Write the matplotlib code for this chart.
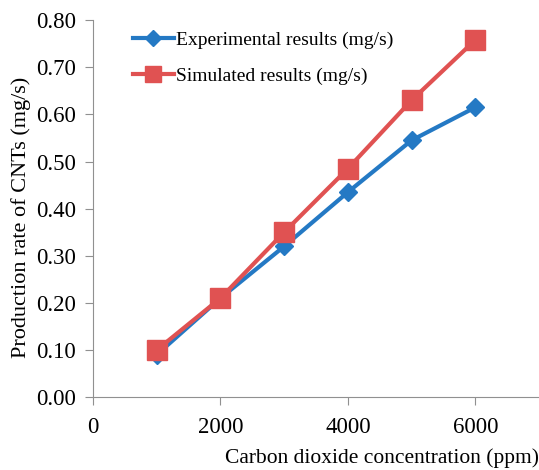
import matplotlib
matplotlib.use("Agg")
import matplotlib.pyplot as plt

# data
co2_ppm = [1000, 2000, 3000, 4000, 5000, 6000]
experimental = [0.09, 0.21, 0.32, 0.435, 0.545, 0.615]
simulated = [0.10, 0.21, 0.35, 0.485, 0.63, 0.758]

plt.rcParams['font.family'] = ['Liberation Serif', 'DejaVu Serif']

fig = plt.figure(figsize=(5.39, 4.70), dpi=100)
ax = fig.add_axes([0.1725, 0.155, 0.8275, 0.802])

ax.plot(co2_ppm, experimental, color='#2479c4', lw=3, marker='D', ms=9,
        label='Experimental results (mg/s)')
ax.plot(co2_ppm, simulated, color='#e05252', lw=3, marker='s', ms=14,
        label='Simulated results (mg/s)')

ax.set_xlim(0, 7000)
ax.set_ylim(0, 0.8)
ax.set_xticks([0, 2000, 4000, 6000])
ax.set_yticks([i / 10 for i in range(9)])
ax.yaxis.set_major_formatter(matplotlib.ticker.FormatStrFormatter('%.2f'))

for s in ['top', 'right']:
    ax.spines[s].set_visible(False)
for s in ['left', 'bottom']:
    ax.spines[s].set_color('#909090')
ax.tick_params(colors='#909090', labelcolor='black', labelsize=16.5, length=6,
               direction='out')
ax.tick_params(axis='y', pad=6)
ax.tick_params(axis='x', pad=8)

ax.set_ylabel('Production rate of CNTs (mg/s)', fontsize=16)
ax.yaxis.set_label_coords(-0.14, 0.476)
ax.set_xlabel('Carbon dioxide concentration (ppm)', fontsize=15.5)
ax.xaxis.set_label_coords(1.0, -0.135)
ax.xaxis.label.set_ha('right')

ax.legend(loc='upper left', bbox_to_anchor=(0.05, 1.017), frameon=False,
          fontsize=14, handlelength=2.1, handletextpad=0.1, labelspacing=0.95,
          markerscale=0.85)

fig.savefig('out.png', dpi=100)
